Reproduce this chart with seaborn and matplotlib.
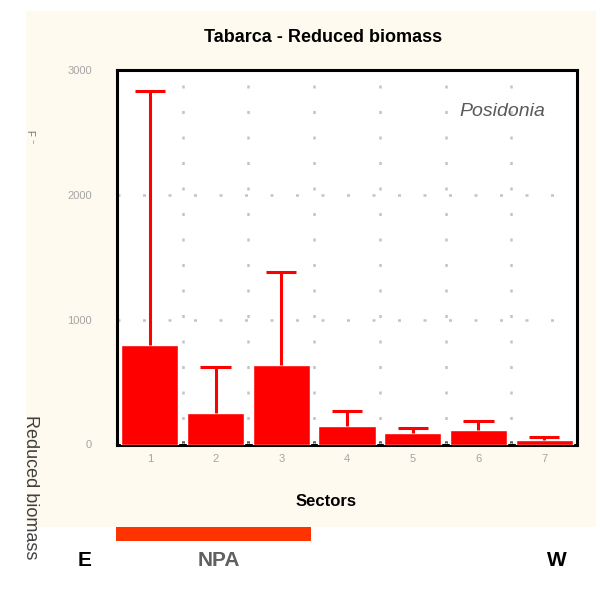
import matplotlib
matplotlib.use("Agg")
import matplotlib.pyplot as plt
import seaborn as sns
import pandas as pd
from matplotlib.patches import Rectangle
from matplotlib import font_manager

# ---- data ----
sectors = ["1", "2", "3", "4", "5", "6", "7"]
means = [796, 250, 636, 148, 92, 116, 36]
upper = [2828, 620, 1378, 270, 134, 190, 62]
yticks = [0, 1000, 2000, 3000]
ytick_labels = ["0", "1000", "2000", "3000"]
zone_labels = ["E", "NPA", "W"]

sns.set_theme(style="white")
names = {f.name for f in font_manager.fontManager.ttflist}
narrow = "Liberation Sans Narrow" if "Liberation Sans Narrow" in names else "Liberation Sans"
plt.rcParams["font.family"] = [narrow, "DejaVu Sans"]

df = pd.DataFrame({"sector": sectors, "biomass": means, "upper": upper})

fig = plt.figure(figsize=(6.0, 5.92), dpi=100, facecolor="white")

# cream panel
fig.patches.append(Rectangle((26 / 600, 1 - 527 / 592), 570 / 600, 516 / 592,
                             transform=fig.transFigure, facecolor="#FFFAF0",
                             edgecolor="none", zorder=-2))
# orange NPA bar
fig.patches.append(Rectangle((116 / 600, 1 - 541 / 592), 195 / 600, 14 / 592,
                             transform=fig.transFigure, facecolor="#FF3300",
                             edgecolor="none", zorder=-1))

ax = fig.add_axes([117 / 600, 1 - 444.5 / 592, 460 / 600, 374.5 / 592])
ax.set_zorder(2)
ax.set_facecolor("white")

sns.barplot(data=df, x="sector", y="biomass", color="#FF0000", width=0.87,
            saturation=1, errorbar=None, ax=ax, zorder=3)

xs = list(range(len(sectors)))
ax.vlines(xs, df["biomass"], df["upper"], color="#FF0000", lw=2.2, zorder=3)
ax.hlines(df["upper"], [x - 0.23 for x in xs], [x + 0.23 for x in xs],
          color="#FF0000", lw=2.2, zorder=3)

ax.set_xlim(-0.5, 6.5)
ax.set_ylim(0, 3000)

# dotted grid
for gx in [0.5, 1.5, 2.5, 3.5, 4.5, 5.5]:
    ax.axvline(gx, color="#c4c4c4", lw=1.8, ls=(0, (1.2, 9)), zorder=1)
for gy in [1000, 2000]:
    ax.axhline(gy, color="#c4c4c4", lw=1.8, ls=(0, (1.2, 9)), zorder=1)

ax.set_yticks(yticks)
ax.set_yticklabels(ytick_labels)
ax.tick_params(axis="y", length=0, pad=18, labelsize=8, labelcolor="#a4a4a4")
ax.tick_params(axis="x", length=0, pad=7, labelsize=8, labelcolor="#a4a4a4")
ax.set_xticks([0.5, 1.5, 2.5, 3.5, 4.5, 5.5], minor=True)
ax.tick_params(axis="x", which="minor", direction="in", length=3, width=2,
               color="black", bottom=True)

for s in ax.spines.values():
    s.set_visible(True)
    s.set_color("black")
    s.set_linewidth(2.2)

ax.set_xlabel("")
ax.set_ylabel("")

ax.text(0.93, 0.89, "Posidonia", transform=ax.transAxes, ha="right", va="center",
        fontsize=14, style="italic", color="#5a5a5a",
        family=["Liberation Sans", "DejaVu Sans"])

fig.text(323 / 600, 1 - 37 / 592, "Tabarca - Reduced biomass", ha="center",
         va="center", fontsize=13, fontweight="bold", color="black")
fig.text(326 / 600, 1 - 502 / 592, "Sectors", ha="center", va="center",
         fontsize=12, fontweight="bold", color="black")
fig.text(30 / 600, 1 - 415 / 592, "Reduced biomass", rotation=270, ha="center",
         va="top", fontsize=13, color="#404040")
fig.text(30 / 600, 1 - 130 / 592, "F ⁻", rotation=270, ha="center",
         va="top", fontsize=7, color="#707070")

zone_x = [85, 219, 557]
for lab, zx in zip(zone_labels, zone_x):
    fig.text(zx / 600, 1 - 560 / 592, lab, ha="center", va="center",
             fontsize=15, fontweight="bold",
             color="black" if lab != "NPA" else "#606060")

fig.savefig("out.png", dpi=100, facecolor="white")
